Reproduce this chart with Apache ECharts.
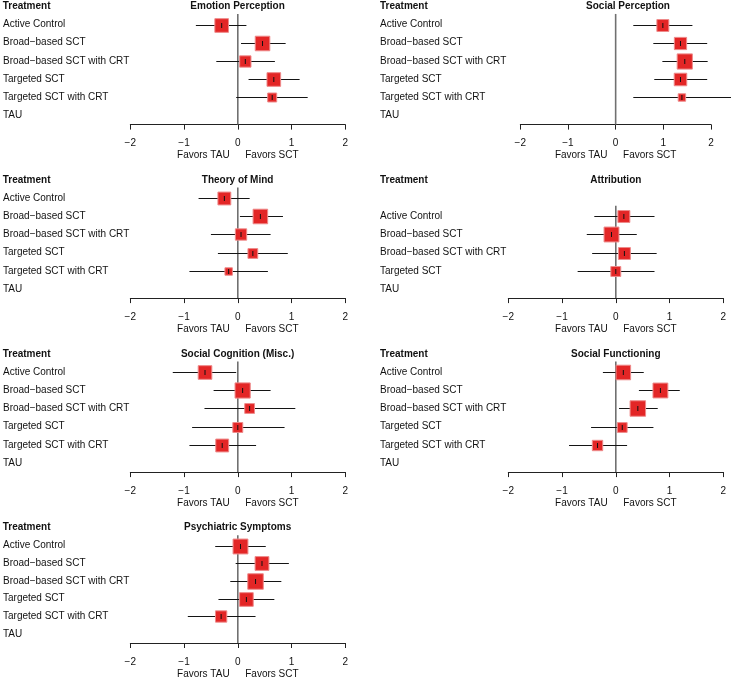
<!DOCTYPE html>
<html>
<head>
<meta charset="utf-8">
<script src="https://cdn.jsdelivr.net/npm/echarts@6/dist/echarts.min.js"></script>
<style>
html,body{margin:0;padding:0;background:#ffffff;}
#chart{width:731px;height:681px;}
</style>
</head>
<body>
<div id="chart"></div>
<script>
// ---------- DATA ----------
const treatments = ['Active Control', 'Broad\u2212based SCT', 'Broad\u2212based SCT with CRT', 'Targeted SCT', 'Targeted SCT with CRT', 'TAU'];
const treatmentsAttribution = ['Active Control', 'Broad\u2212based SCT', 'Broad\u2212based SCT with CRT', 'Targeted SCT', 'TAU'];
const xTicks = [-2, -1, 0, 1, 2];

// Emotion Perception
const emoEst = [-0.30, 0.46, 0.14, 0.67, 0.64];
const emoLo  = [-0.78, 0.06, -0.40, 0.20, -0.03];
const emoHi  = [0.16, 0.89, 0.69, 1.15, 1.30];
const emoW   = [0.88, 0.94, 0.73, 0.88, 0.58];
// Social Perception
const spEst = [0.99, 1.36, 1.45, 1.36, 1.39];
const spLo  = [0.37, 0.79, 0.98, 0.81, 0.37];
const spHi  = [1.61, 1.92, 1.93, 1.92, 2.60];
const spW   = [0.77, 0.79, 0.98, 0.81, 0.48];
// Theory of Mind
const tomEst = [-0.25, 0.42, 0.06, 0.28, -0.17];
const tomLo  = [-0.73, 0.04, -0.50, -0.37, -0.90];
const tomHi  = [0.22, 0.84, 0.61, 0.93, 0.56];
const tomW   = [0.83, 0.94, 0.73, 0.63, 0.48];
// Attribution
const attEst = [0.15, -0.08, 0.16, 0.00];
const attLo  = [-0.40, -0.54, -0.44, -0.71];
const attHi  = [0.72, 0.39, 0.76, 0.72];
const attW   = [0.77, 0.96, 0.77, 0.64];
// Social Cognition (Misc.)
const scEst = [-0.61, 0.09, 0.22, 0.00, -0.29];
const scLo  = [-1.21, -0.45, -0.62, -0.85, -0.90];
const scHi  = [-0.03, 0.61, 1.07, 0.87, 0.34];
const scW   = [0.88, 0.98, 0.63, 0.64, 0.83];
// Social Functioning
const sfEst = [0.14, 0.83, 0.41, 0.12, -0.34];
const sfLo  = [-0.24, 0.43, 0.06, -0.46, -0.87];
const sfHi  = [0.52, 1.19, 0.78, 0.70, 0.21];
const sfW   = [0.94, 0.96, 1.00, 0.63, 0.67];
// Psychiatric Symptoms
const psEst = [0.05, 0.45, 0.33, 0.16, -0.31];
const psLo  = [-0.42, -0.04, -0.14, -0.36, -0.93];
const psHi  = [0.52, 0.95, 0.81, 0.68, 0.33];
const psW   = [0.96, 0.89, 1.00, 0.88, 0.73];

// ---------- LAYOUT ----------
const FONT = '"Liberation Sans", Arial, Helvetica, sans-serif';
const ROW = 18.2;
const BOX = 15.5;
const YMIN = -0.58, YMAX = 5.5;
const rowTops = [24.5, 198, 372, 545.8];

const panels = [
  {title: 'Emotion Perception', labels: treatments, est: emoEst, lo: emoLo, hi: emoHi, w: emoW, first: 0,
   col: 0, row: 0, left: 130, width: 215.3, titleX: 237.6},
  {title: 'Social Perception', labels: treatments, est: spEst, lo: spLo, hi: spHi, w: spW, first: 0,
   col: 1, row: 0, left: 520.3, width: 190.7, titleX: 628},
  {title: 'Theory of Mind', labels: treatments, est: tomEst, lo: tomLo, hi: tomHi, w: tomW, first: 0,
   col: 0, row: 1, left: 130, width: 215.3, titleX: 237.6},
  {title: 'Attribution', labels: treatmentsAttribution, est: attEst, lo: attLo, hi: attHi, w: attW, first: 1,
   col: 1, row: 1, left: 508.3, width: 215, titleX: 615.8},
  {title: 'Social Cognition (Misc.)', labels: treatments, est: scEst, lo: scLo, hi: scHi, w: scW, first: 0,
   col: 0, row: 2, left: 130, width: 215.3, titleX: 237.6},
  {title: 'Social Functioning', labels: treatments, est: sfEst, lo: sfLo, hi: sfHi, w: sfW, first: 0,
   col: 1, row: 2, left: 508.3, width: 215, titleX: 615.8},
  {title: 'Psychiatric Symptoms', labels: treatments, est: psEst, lo: psLo, hi: psHi, w: psW, first: 0,
   col: 0, row: 3, left: 130, width: 215.3, titleX: 237.6}
];
const labelX = [2.7, 380];

function fmtTick(v) { return v < 0 ? '\u2212' + Math.abs(v) : String(v); }

function renderForest(params, api) {
  const est = api.value(0), lo = api.value(1), hi = api.value(2), row = api.value(3), w = api.value(4);
  const c = api.coord([est, row]);
  const l = api.coord([lo, row]);
  const h = api.coord([hi, row]);
  const s = w * BOX;
  const y = Math.round(c[1]) + 0.5;
  return {
    type: 'group',
    children: [
      {type: 'line', shape: {x1: l[0], y1: y, x2: h[0], y2: y}, style: {stroke: '#141414', lineWidth: 1.1}},
      {type: 'rect', shape: {x: c[0] - s / 2, y: y - s / 2, width: s, height: s},
       style: {fill: '#e32626', stroke: '#ee8a8a', lineWidth: 1}},
      {type: 'line', shape: {x1: c[0], y1: y - 2.5, x2: c[0], y2: y + 2.5}, style: {stroke: '#111', lineWidth: 1}}
    ]
  };
}

function renderZero(params, api) {
  const a = api.coord([api.value(0), api.value(1)]);
  const b = api.coord([api.value(0), api.value(2)]);
  return {type: 'line', shape: {x1: a[0], y1: a[1], x2: b[0], y2: b[1]},
          style: {stroke: '#707070', lineWidth: 1.6}};
}

const grids = [], xAxes = [], yAxes = [], series = [], titles = [];
panels.forEach((p, i) => {
  const A = rowTops[p.row];
  const top = A + YMIN * ROW;
  grids.push({left: p.left, top: top, width: p.width, height: (YMAX - YMIN) * ROW, containLabel: false});
  xAxes.push({
    type: 'value', gridIndex: i, min: xTicks[0], max: xTicks[xTicks.length - 1], interval: 1,
    axisLine: {show: true, onZero: false, lineStyle: {color: '#222', width: 1}},
    axisTick: {show: true, length: 5, lineStyle: {color: '#222', width: 1}},
    splitLine: {show: false},
    axisLabel: {margin: 14, fontSize: 10, color: '#111', fontFamily: FONT, formatter: fmtTick},
    name: '{a|Favors TAU}{g|}{a|Favors SCT}',
    nameLocation: 'middle', nameGap: 25,
    nameTextStyle: {
      rich: {
        a: {fontSize: 10, color: '#111', fontFamily: FONT},
        g: {width: 15.6}
      }
    }
  });
  const rows = p.labels.map((_, k) => k + p.first);
  yAxes.push({
    type: 'value', gridIndex: i, inverse: true, min: YMIN, max: YMAX,
    axisLine: {show: false}, axisTick: {show: false}, splitLine: {show: false},
    axisLabel: {
      customValues: rows,
      align: 'left', margin: p.left - labelX[p.col],
      fontSize: 10, color: '#111', fontFamily: FONT,
      formatter: (v) => p.labels[Math.round(v) - p.first]
    }
  });
  series.push({
    type: 'custom', xAxisIndex: i, yAxisIndex: i, clip: false, silent: true,
    renderItem: renderZero,
    data: [[0, p.first + YMIN, YMAX]], z: 1
  });
  series.push({
    type: 'custom', xAxisIndex: i, yAxisIndex: i, clip: false, silent: true,
    renderItem: renderForest,
    encode: {x: [0, 1, 2], y: 3},
    data: p.est.map((e, k) => [e, p.lo[k], p.hi[k], k + p.first, p.w[k]]), z: 2
  });
  titles.push({
    text: 'Treatment', left: labelX[p.col], top: A - ROW - 5, padding: 0,
    textStyle: {fontSize: 10, fontWeight: 'bold', color: '#111', fontFamily: FONT}
  });
  titles.push({
    text: p.title, left: p.titleX, top: A - ROW - 5, padding: 0, textAlign: 'center',
    textStyle: {fontSize: 10, fontWeight: 'bold', color: '#111', fontFamily: FONT}
  });
});

const chart = echarts.init(document.getElementById('chart'), null, {renderer: 'canvas'});
chart.setOption({
  backgroundColor: '#ffffff',
  animation: false,
  title: titles,
  grid: grids,
  xAxis: xAxes,
  yAxis: yAxes,
  series: series
});
</script>
</body>
</html>
